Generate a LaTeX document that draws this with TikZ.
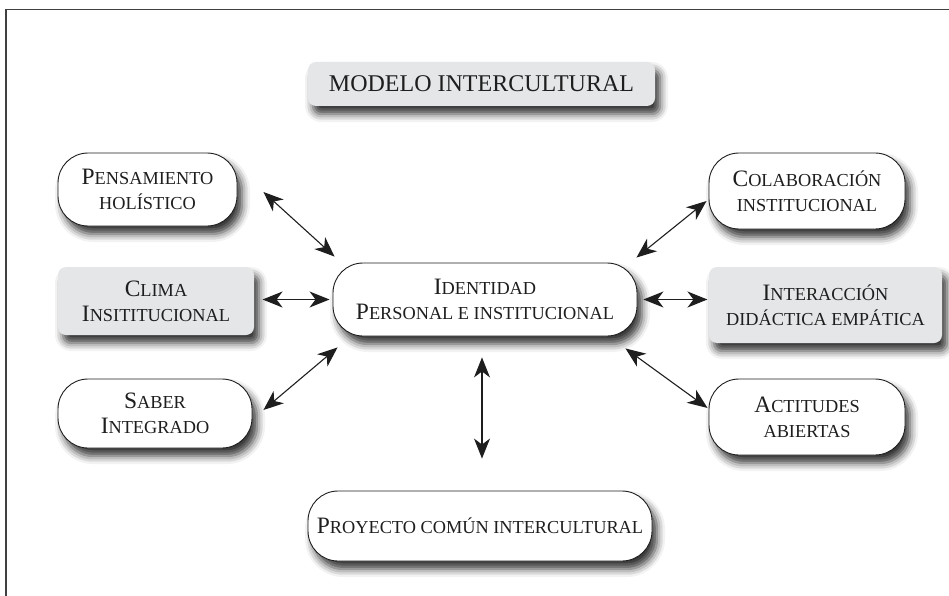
\documentclass[tikz,border=0pt]{standalone}
\usepackage{fontspec}
\setmainfont{Liberation Serif}
\usetikzlibrary{arrows.meta,shadows.blur,calc}
\definecolor{boxgray}{RGB}{229,230,232}
\definecolor{ink}{RGB}{30,30,30}
\newcommand\Bg[1]{{\fontsize{23.5}{25}\selectfont #1}}
\begin{document}
\begin{tikzpicture}[x=1pt,y=-1pt,
  base/.style={draw=ink, line width=0.9pt, align=center, inner sep=0pt,
    text=ink, font=\fontsize{18.3}{25}\selectfont,
    blur shadow={shadow xshift=5pt, shadow yshift=-8pt, shadow blur radius=8pt, shadow opacity=80}},
  pill/.style={base, fill=white, rounded corners=30pt},
  graybox/.style={base, draw=none, fill=boxgray, rounded corners=8pt},
  arr/.style={{Stealth[length=20pt,width=16pt,inset=6pt]}-{Stealth[length=20pt,width=16pt,inset=6pt]}, line width=1.1pt, draw=ink}
]
\useasboundingbox (0,0) rectangle (949,596);
\draw[line width=1.3pt, draw=black!75] (6,596) -- (6,9.5) -- (949,9.5);

\node[graybox, minimum width=347pt, minimum height=44pt, font=\fontsize{24}{28}\selectfont] (title) at (481.5,84) {MODELO INTERCULTURAL};

\node[pill, minimum width=179pt, minimum height=73pt] (pens) at (147.5,189.5) {\Bg{P}ENSAMIENTO\\HOLÍSTICO};
\node[graybox, minimum width=196pt, minimum height=68pt] (clima) at (156,301) {\Bg{C}LIMA\\\Bg{I}NSITITUCIONAL};
\node[pill, minimum width=194pt, minimum height=69pt] (saber) at (155,413.5) {\Bg{S}ABER\\\Bg{I}NTEGRADO};

\node[pill, minimum width=304pt, minimum height=73pt] (iden) at (485,299.5) {\Bg{I}DENTIDAD\\\Bg{P}ERSONAL E INSTITUCIONAL};

\node[pill, minimum width=196pt, minimum height=76pt] (colab) at (807,191) {\Bg{C}OLABORACIÓN\\INSTITUCIONAL};
\node[graybox, minimum width=233pt, minimum height=76pt] (inter) at (825.5,305) {\Bg{I}NTERACCIÓN\\DIDÁCTICA EMPÁTICA};
\node[pill, minimum width=196pt, minimum height=76pt] (act) at (807,417) {\Bg{A}CTITUDES\\ABIERTAS};

\node[pill, minimum width=344pt, minimum height=70pt] (proy) at (480,526) {\Bg{P}ROYECTO COMÚN INTERCULTURAL};

\draw[arr] ($(pens.east)+(26,2.5)$) -- ($(iden.north west)+(2,-6)$);
\draw[arr] ($(iden.west)+(-70,0)$) -- ($(iden.west)+(-3,0)$);
\draw[arr] ($(saber.east)+(11,-3.5)$) -- ($(iden.south west)+(5,11)$);
\draw[arr] ($(colab.west)+(-2,10)$) -- ($(iden.north east)+(-1,-5)$);
\draw[arr] ($(iden.east)+(6,0)$) -- ($(iden.east)+(70,0)$);
\draw[arr] ($(iden.south east)+(-12,12)$) -- ($(act.west)+(-1,-9)$);
\draw[arr] ($(iden.south)+(-3,21)$) -- ($(proy.north)+(2,-32)$);
\end{tikzpicture}
\end{document}
